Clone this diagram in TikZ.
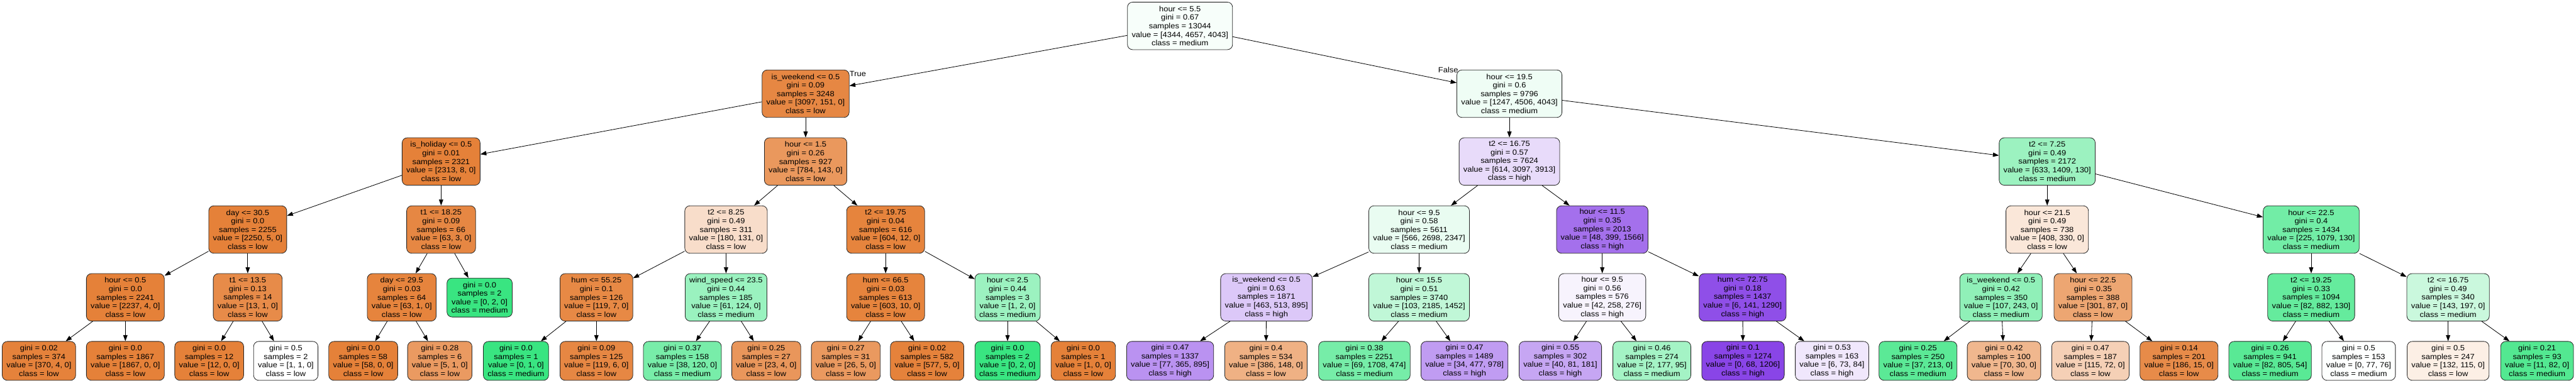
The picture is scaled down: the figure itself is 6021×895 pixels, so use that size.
\documentclass[tikz,border=0pt]{standalone}
\usepackage{fontspec}
\setmainfont{Liberation Sans}[FakeStretch=1.08]
\usetikzlibrary{arrows.meta}
\definecolor{clow}{HTML}{E58139}
\definecolor{cmed}{HTML}{39E581}
\definecolor{chigh}{HTML}{8139E5}

\begin{document}
\begin{tikzpicture}[x=0.5pt,y=-0.5pt,>={Triangle[length=7pt,width=5pt]},
	box/.style={draw=black!85,line width=0.6pt,rounded corners=6pt,align=center,
		inner xsep=5pt,inner ysep=1pt,font=\fontsize{8.8pt}{10pt}\selectfont},
	split/.style={box,minimum height=55.5pt},
	leaf/.style={box,minimum height=45.5pt},
	link/.style={->,line width=0.6pt},
	lbl/.style={inner sep=0pt,font=\fontsize{8.8pt}{10pt}\selectfont}]
	\useasboundingbox (0,0) rectangle (6021,895);
	
	% gyoker es elso szint
	\node[split,fill=cmed!4!white] (root) at (2758,60.5) {hour <= 5.5\\gini = 0.67\\samples = 13044\\value = [4344, 4657, 4043]\\class = medium};
	\node[split,fill=clow!95!white] (n1) at (1883,219) {is\_weekend <= 0.5\\gini = 0.09\\samples = 3248\\value = [3097, 151, 0]\\class = low};
	\node[split,fill=cmed!8!white] (n2) at (3528,219) {hour <= 19.5\\gini = 0.6\\samples = 9796\\value = [1247, 4506, 4043]\\class = medium};
	\node[lbl] (lbltrue) at (2005,172) {True};
	\node[lbl] (lblfalse) at (3385,163) {False};
	
	% masodik szint
	\node[split,fill=clow] (n3) at (1031,377.5) {is\_holiday <= 0.5\\gini = 0.01\\samples = 2321\\value = [2313, 8, 0]\\class = low};
	\node[split,fill=clow!82!white] (n4) at (1883,377.5) {hour <= 1.5\\gini = 0.26\\samples = 927\\value = [784, 143, 0]\\class = low};
	\node[split,fill=chigh!18!white] (n5) at (3528,377.5) {t2 <= 16.75\\gini = 0.57\\samples = 7624\\value = [614, 3097, 3913]\\class = high};
	\node[split,fill=cmed!50!white] (n6) at (4785,377.5) {t2 <= 7.25\\gini = 0.49\\samples = 2172\\value = [633, 1409, 130]\\class = medium};
	
	% harmadik szint
	\node[split,fill=clow] (n7) at (579,536.5) {day <= 30.5\\gini = 0.0\\samples = 2255\\value = [2250, 5, 0]\\class = low};
	\node[split,fill=clow!95!white] (n8) at (1031,536.5) {t1 <= 18.25\\gini = 0.09\\samples = 66\\value = [63, 3, 0]\\class = low};
	\node[split,fill=clow!27!white] (n9) at (1697,536.5) {t2 <= 8.25\\gini = 0.49\\samples = 311\\value = [180, 131, 0]\\class = low};
	\node[split,fill=clow!98!white] (n10) at (2070,536.5) {t2 <= 19.75\\gini = 0.04\\samples = 616\\value = [604, 12, 0]\\class = low};
	\node[split,fill=cmed!11!white] (n11) at (3317,536.5) {hour <= 9.5\\gini = 0.58\\samples = 5611\\value = [566, 2698, 2347]\\class = medium};
	\node[split,fill=chigh!72!white] (n12) at (3745,536.5) {hour <= 11.5\\gini = 0.35\\samples = 2013\\value = [48, 399, 1566]\\class = high};
	\node[split,fill=clow!19!white] (n13) at (4785,536.5) {hour <= 21.5\\gini = 0.49\\samples = 738\\value = [408, 330, 0]\\class = low};
	\node[split,fill=cmed!71!white] (n14) at (5402,536.5) {hour <= 22.5\\gini = 0.4\\samples = 1434\\value = [225, 1079, 130]\\class = medium};
	
	% negyedik szint
	\node[split,fill=clow] (n15) at (293,695) {hour <= 0.5\\gini = 0.0\\samples = 2241\\value = [2237, 4, 0]\\class = low};
	\node[split,fill=clow!92!white] (n16) at (579,695) {t1 <= 13.5\\gini = 0.13\\samples = 14\\value = [13, 1, 0]\\class = low};
	\node[split,fill=clow!98!white] (n17) at (939,695) {day <= 29.5\\gini = 0.03\\samples = 64\\value = [63, 1, 0]\\class = low};
	\node[leaf,fill=cmed] (n18) at (1121,695.5) {gini = 0.0\\samples = 2\\value = [0, 2, 0]\\class = medium};
	\node[split,fill=clow!94!white] (n19) at (1394,695) {hum <= 55.25\\gini = 0.1\\samples = 126\\value = [119, 7, 0]\\class = low};
	\node[split,fill=cmed!51!white] (n20) at (1697,695) {wind\_speed <= 23.5\\gini = 0.44\\samples = 185\\value = [61, 124, 0]\\class = medium};
	\node[split,fill=clow!98!white] (n21) at (2070,695) {hum <= 66.5\\gini = 0.03\\samples = 613\\value = [603, 10, 0]\\class = low};
	\node[split,fill=cmed!50!white] (n22) at (2355,695) {hour <= 2.5\\gini = 0.44\\samples = 3\\value = [1, 2, 0]\\class = medium};
	\node[split,fill=chigh!28!white] (n23) at (2960,695) {is\_weekend <= 0.5\\gini = 0.63\\samples = 1871\\value = [463, 513, 895]\\class = high};
	\node[split,fill=cmed!32!white] (n24) at (3317,695) {hour <= 15.5\\gini = 0.51\\samples = 3740\\value = [103, 2185, 1452]\\class = medium};
	\node[split,fill=chigh!6!white] (n25) at (3745,695) {hour <= 9.5\\gini = 0.56\\samples = 576\\value = [42, 258, 276]\\class = high};
	\node[split,fill=chigh!89!white] (n26) at (4073,695) {hum <= 72.75\\gini = 0.18\\samples = 1437\\value = [6, 141, 1290]\\class = high};
	\node[split,fill=cmed!56!white] (n27) at (4677,695) {is\_weekend <= 0.5\\gini = 0.42\\samples = 350\\value = [107, 243, 0]\\class = medium};
	\node[split,fill=clow!71!white] (n28) at (4892,695) {hour <= 22.5\\gini = 0.35\\samples = 388\\value = [301, 87, 0]\\class = low};
	\node[split,fill=cmed!78!white] (n29) at (5402,695) {t2 <= 19.25\\gini = 0.33\\samples = 1094\\value = [82, 882, 130]\\class = medium};
	\node[split,fill=cmed!27!white] (n30) at (5722,695) {t2 <= 16.75\\gini = 0.49\\samples = 340\\value = [143, 197, 0]\\class = medium};
	
	% levelek
	\node[leaf,fill=clow!99!white] (l1) at (91,843.5) {gini = 0.02\\samples = 374\\value = [370, 4, 0]\\class = low};
	\node[leaf,fill=clow] (l2) at (293,843.5) {gini = 0.0\\samples = 1867\\value = [1867, 0, 0]\\class = low};
	\node[leaf,fill=clow] (l3) at (489,843.5) {gini = 0.0\\samples = 12\\value = [12, 0, 0]\\class = low};
	\node[leaf,fill=white] (l4) at (668,843.5) {gini = 0.5\\samples = 2\\value = [1, 1, 0]\\class = low};
	\node[leaf,fill=clow] (l5) at (849,843.5) {gini = 0.0\\samples = 58\\value = [58, 0, 0]\\class = low};
	\node[leaf,fill=clow!80!white] (l6) at (1028,843.5) {gini = 0.28\\samples = 6\\value = [5, 1, 0]\\class = low};
	\node[leaf,fill=cmed] (l7) at (1206,843.5) {gini = 0.0\\samples = 1\\value = [0, 1, 0]\\class = medium};
	\node[leaf,fill=clow!95!white] (l8) at (1394,843.5) {gini = 0.09\\samples = 125\\value = [119, 6, 0]\\class = low};
	\node[leaf,fill=cmed!68!white] (l9) at (1595,843.5) {gini = 0.37\\samples = 158\\value = [38, 120, 0]\\class = medium};
	\node[leaf,fill=clow!83!white] (l10) at (1791,843.5) {gini = 0.25\\samples = 27\\value = [23, 4, 0]\\class = low};
	\node[leaf,fill=clow!81!white] (l11) at (1977,843.5) {gini = 0.27\\samples = 31\\value = [26, 5, 0]\\class = low};
	\node[leaf,fill=clow!99!white] (l12) at (2167,843.5) {gini = 0.02\\samples = 582\\value = [577, 5, 0]\\class = low};
	\node[leaf,fill=cmed] (l13) at (2355,843.5) {gini = 0.0\\samples = 2\\value = [0, 2, 0]\\class = medium};
	\node[leaf,fill=clow] (l14) at (2532,843.5) {gini = 0.0\\samples = 1\\value = [1, 0, 0]\\class = low};
	\node[leaf,fill=chigh!55!white] (l15) at (2735,843.5) {gini = 0.47\\samples = 1337\\value = [77, 365, 895]\\class = high};
	\node[leaf,fill=clow!62!white] (l16) at (2959,843.5) {gini = 0.4\\samples = 534\\value = [386, 148, 0]\\class = low};
	\node[leaf,fill=cmed!69!white] (l17) at (3189,843.5) {gini = 0.38\\samples = 2251\\value = [69, 1708, 474]\\class = medium};
	\node[leaf,fill=chigh!50!white] (l18) at (3423,843.5) {gini = 0.47\\samples = 1489\\value = [34, 477, 978]\\class = high};
	\node[leaf,fill=chigh!45!white] (l19) at (3647,843.5) {gini = 0.55\\samples = 302\\value = [40, 81, 181]\\class = high};
	\node[leaf,fill=cmed!46!white] (l20) at (3861,843.5) {gini = 0.46\\samples = 274\\value = [2, 177, 95]\\class = medium};
	\node[leaf,fill=chigh!94!white] (l21) at (4074,843.5) {gini = 0.1\\samples = 1274\\value = [0, 68, 1206]\\class = high};
	\node[leaf,fill=chigh!12!white] (l22) at (4282,843.5) {gini = 0.53\\samples = 163\\value = [6, 73, 84]\\class = high};
	\node[leaf,fill=cmed!83!white] (l23) at (4483,843.5) {gini = 0.25\\samples = 250\\value = [37, 213, 0]\\class = medium};
	\node[leaf,fill=clow!57!white] (l24) at (4684,843.5) {gini = 0.42\\samples = 100\\value = [70, 30, 0]\\class = low};
	\node[leaf,fill=clow!37!white] (l25) at (4886,843.5) {gini = 0.47\\samples = 187\\value = [115, 72, 0]\\class = low};
	\node[leaf,fill=clow!92!white] (l26) at (5093,843.5) {gini = 0.14\\samples = 201\\value = [186, 15, 0]\\class = low};
	\node[leaf,fill=cmed!84!white] (l27) at (5306,843.5) {gini = 0.26\\samples = 941\\value = [82, 805, 54]\\class = medium};
	\node[leaf,fill=cmed!1!white] (l28) at (5513,843.5) {gini = 0.5\\samples = 153\\value = [0, 77, 76]\\class = medium};
	\node[leaf,fill=clow!13!white] (l29) at (5722,843.5) {gini = 0.5\\samples = 247\\value = [132, 115, 0]\\class = low};
	\node[leaf,fill=cmed!87!white] (l30) at (5930,843.5) {gini = 0.21\\samples = 93\\value = [11, 82, 0]\\class = medium};
	
	% elek
	\foreach \a/\b in {root/n1,root/n2,n1/n3,n1/n4,n2/n5,n2/n6,
		n3/n7,n3/n8,n4/n9,n4/n10,n5/n11,n5/n12,n6/n13,n6/n14,
		n7/n15,n7/n16,n8/n17,n8/n18,n9/n19,n9/n20,n10/n21,n10/n22,
		n11/n23,n11/n24,n12/n25,n12/n26,n13/n27,n13/n28,n14/n29,n14/n30,
		n15/l1,n15/l2,n16/l3,n16/l4,n17/l5,n17/l6,n19/l7,n19/l8,
		n20/l9,n20/l10,n21/l11,n21/l12,n22/l13,n22/l14,n23/l15,n23/l16,
		n24/l17,n24/l18,n25/l19,n25/l20,n26/l21,n26/l22,n27/l23,n27/l24,
		n28/l25,n28/l26,n29/l27,n29/l28,n30/l29,n30/l30}
	\draw[link] (\a) -- (\b);
\end{tikzpicture}
\end{document}
